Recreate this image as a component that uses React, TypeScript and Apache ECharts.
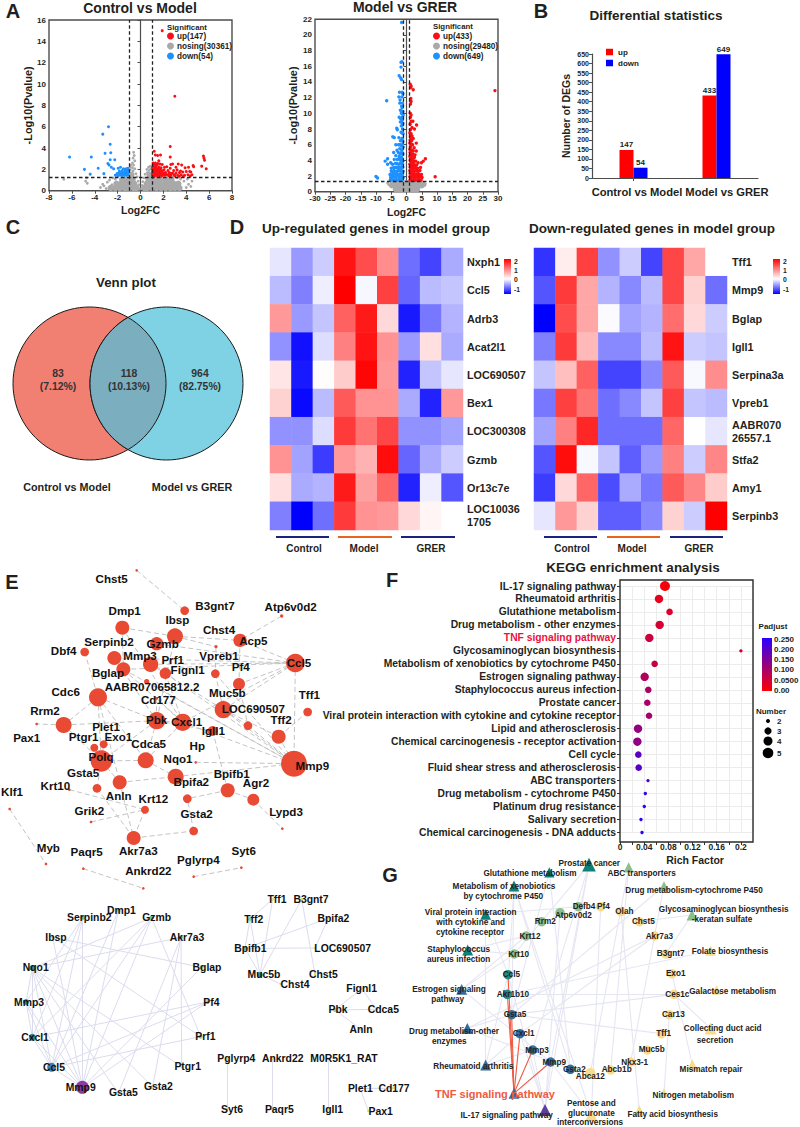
import React, { useEffect, useRef } from "react";
import * as echarts from "echarts";

const FF = "'Liberation Sans', Arial, sans-serif";
const INK = "#231f20";

// ---------- A: volcano plots ----------
const upA1 = [[1.9,15],[3,8.85],[2.6,4.15],[1.2,3.7],[1.3,3.35],[1.5,3.3],[1.75,3.35],[1.6,2.8],[2.6,3.15],[5.5,3.25],[5.55,3.05],[5.6,2.85],[5.35,2.3],[5.75,2.05],[4.2,2.2],[4.6,2.35],[4.65,2.25],[1.1,2.6],[1.3,2.6],[1.5,2.55],[1.7,2.5],[1.1,2.4],[1.25,2.35],[1.45,2.4],[1.9,2.45],[2.1,2.2],[2.3,2.25],[1.05,2.2],[1.2,2.15],[1.35,2.2],[1.6,2.2],[1.8,2.15],[2.6,2.1],[2.8,2.5],[3.1,2.2],[3.3,2.5],[3.6,2.4],[3.9,2.15],[2.65,2.45],[1.05,2],[1.15,1.95],[1.3,2],[1.45,1.95],[1.65,2],[1.85,1.9],[2.05,1.95],[2.4,1.9],[2.9,1.9],[3.2,1.95],[3.5,1.85],[4.3,1.8],[1.05,1.8],[1.2,1.75],[1.35,1.8],[1.5,1.75],[1.7,1.7],[1.9,1.75],[2.2,1.7],[2.5,1.7],[2.8,1.65],[3.1,1.65],[3.4,1.7],[3.7,1.75],[4,1.8],[4.4,1.75],[1.05,1.6],[1.2,1.55],[1.35,1.6],[1.55,1.55],[1.75,1.55],[1.95,1.5],[2.15,1.55],[2.35,1.5],[2.65,1.45],[2.95,1.5],[3.25,1.45],[3.55,1.5],[3.85,1.45],[4.15,1.5],[4.5,1.5],[1.05,1.42],[1.2,1.4],[1.4,1.4],[1.6,1.38],[1.85,1.38],[2.5,1.38],[3,1.38],[3.4,1.36],[3.75,1.36],[4.35,1.38]];
const upBulkA1 = [[1.3,1.6],[1.7,1.6],[1.3,2],[1.6,2],[2.1,1.55],[1.25,2.35],[2.6,1.55]];
const downA1 = [[-6.2,3.15],[-4.3,3.15],[-4.9,2],[-4.4,1.55],[-3.7,2.1],[-3.2,1.6],[-3.3,5.3],[-2.8,6],[-2.65,4.35],[-3.1,3.5],[-2.6,3.55],[-2.85,2.55],[-2.75,2.4],[-2.55,2.2],[-2.25,2.9],[-2.65,2.9],[-2.35,2.05],[-1.95,2.1],[-1.75,2.2],[-1.5,2.05],[-1.25,2],[-1.1,2.1],[-1.1,1.9],[-1.35,1.85],[-1.6,1.9],[-1.85,1.85],[-2.05,1.6],[-1.9,1.65],[-1.7,1.65],[-1.5,1.7],[-1.3,1.65],[-1.1,1.7],[-2,1.4],[-1.8,1.45],[-1.6,1.45],[-1.4,1.45],[-1.2,1.45],[-1.08,1.5],[-2.2,1.45]];
const downBulkA1 = [[-1.3,1.6],[-1.7,1.6],[-1.25,1.95]];
const greyA1 = [[-6.7,1.07],[-4.7,1.2],[-4.8,0.9],[-4.65,0.7],[-3.5,0.3],[-3.2,0.45],[-3,0.2],[-3.3,0.6],[-2.9,0.8],[-2.7,1],[-2.4,1.2],[-2.2,1.1],[-2.5,0.55],[4.4,0.4],[4.2,0.6],[4.5,0.9],[4,0.3],[3.8,0.9],[3.5,1.1],[4.1,1.1],[3.2,1.2],[2.8,1.25],[2.3,1.25],[1.8,1.28],[-0.6,3.6],[-0.55,3.3],[-0.65,3.05],[-0.5,2.8],[-0.7,2.6],[-0.85,2.4],[-0.6,2.4],[-0.9,2.2],[-0.7,2.15],[-0.5,2.05],[-0.9,1.95],[-0.65,1.85],[0.85,2.3],[0.7,2.2],[0.9,2.05],[0.55,2],[0.75,1.9],[0.6,1.7],[0.4,1.55],[-0.4,1.6],[-0.3,1.3],[0.3,1.2],[-0.2,0.9],[0.2,0.85],[-0.15,0.55],[0.15,0.5],[0.1,0.2],[-0.1,0.15],[-1.2,0.1],[1.8,0.1],[2.7,0.1]];
const greyBulkA1 = [[-2.6,0.25],[-2.2,0.25],[-1.8,0.25],[-1.4,0.25],[-1,0.25],[-0.6,0.25],[-0.35,0.25],[0.35,0.25],[0.6,0.25],[1,0.25],[1.4,0.25],[1.8,0.25],[2.2,0.25],[2.6,0.25],[3,0.25],[3.4,0.25],[-2.1,0.65],[-1.7,0.65],[-1.3,0.65],[-0.9,0.65],[-0.55,0.65],[0.55,0.65],[0.9,0.65],[1.3,0.65],[1.7,0.65],[2.1,0.65],[2.5,0.65],[2.9,0.65],[3.3,0.65],[-1.6,1.05],[-1.3,1.05],[-0.95,1.05],[-0.7,1.05],[0.7,1.05],[0.95,1.05],[1.3,1.05],[1.7,1.05],[2.2,1.05],[2.7,1.05],[-0.8,1.5],[0.8,1.5]];

const upA2 = [[29,12.9],[9.4,1.9],[1.2,13.7],[1.5,13.5],[1.4,13.3],[2.2,13],[1.4,11.9],[1.5,11.5],[1.3,11.2],[1.2,10],[1.5,9.8],[1.3,9.5],[2.1,9],[1.5,9],[1.2,8.6],[3.3,8.5],[1.8,8.2],[2.6,8],[1.3,7.9],[1.1,7.5],[1.5,7.4],[1.3,7],[1.8,7.1],[2.2,6.8],[1.2,6.6],[1.7,6.5],[3.2,6.2],[1.1,6.2],[1.5,6.1],[2,6],[1.3,5.7],[2.5,5.6],[1.1,5.4],[1.7,5.3],[2.2,5.2],[3.2,5.2],[1.2,5],[1.6,4.8],[2.1,4.8],[2.8,4.7],[1.1,4.5],[1.5,4.4],[2,4.3],[2.6,4.4],[6.2,4.2],[5.5,3.9],[1.2,4],[1.7,3.9],[2.3,3.9],[3,3.9],[3.8,3.7],[4.9,3.7],[1.1,3.5],[1.5,3.5],[2,3.4],[2.6,3.4],[3.3,3.4],[1.2,3.1],[1.8,3.1],[2.3,3],[2.9,3.1],[3.6,3],[4.6,3.1],[1.1,2.7],[1.5,2.7],[2,2.7],[2.6,2.6],[3.2,2.7],[3.9,2.6],[4.4,2.7],[1.2,2.3],[1.7,2.3],[2.3,2.3],[2.9,2.2],[3.5,2.3],[4.1,2.2],[4.9,2.2],[1.1,1.9],[1.6,1.9],[2.1,1.9],[2.7,1.9],[3.3,1.9],[3.9,1.8],[4.5,1.9],[5.1,1.8],[1.2,1.5],[1.8,1.5],[2.4,1.5],[3,1.5],[3.6,1.5],[4.2,1.5],[4.8,1.5]];
const upBulkA2 = [[1.4,1.6],[2.6,1.6],[3.8,1.6],[1.4,2.1],[2.5,2.1],[3.6,2.1],[1.4,2.6],[2.5,2.6],[1.4,3.1],[2.4,3.1],[1.4,3.6],[2.3,3.6],[1.4,4.1],[2.1,4.1],[1.3,4.7],[1.9,4.7],[1.3,5.3],[1.8,5.3],[1.3,6],[1.4,6.7]];
const downA2 = [[-1.6,21.6],[-1.5,16.6],[-1.8,16.5],[-1.8,15.9],[-2.4,14.8],[-1.9,14.5],[-1.6,14.3],[-2.3,12.7],[-1.4,12.7],[-1.2,12.5],[-2.5,12.1],[-1.5,12.1],[-2.1,11.7],[-6.5,11.6],[-2.2,11.3],[-1.3,11.3],[-1.6,10.9],[-1.4,10.7],[-2,10.4],[-1.2,10.2],[-1.7,10],[-1.1,9.8],[-2.4,9.5],[-1.9,9.3],[-1.4,9.1],[-2,8.9],[-1.2,8.7],[-1.7,8.4],[-3.2,8.1],[-3,7.9],[-1.3,8],[-1.8,7.6],[-1.1,7.4],[-4.5,7],[-4,6.9],[-2.5,6.9],[-1.5,6.8],[-2,6.5],[-1.2,6.4],[-3.5,6],[-2.6,6],[-1.7,5.9],[-1.1,5.7],[-2.2,5.5],[-3.1,5.3],[-1.5,5.2],[-4.2,5],[-2.7,5],[-1.9,4.9],[-1.2,4.8],[-3.5,4.6],[-2.4,4.5],[-1.6,4.4],[-6.2,4.2],[-7,3.9],[-5.2,3.7],[-6.2,3.5],[-4,4.1],[-3,4.1],[-2,4],[-1.2,3.9],[-4.6,3.5],[-3.6,3.6],[-2.6,3.5],[-1.6,3.5],[-5,3],[-4.2,3.1],[-3.2,3.1],[-2.2,3.1],[-1.2,3.1],[-5,2.6],[-4.1,2.7],[-3.2,2.6],[-2.6,2.7],[-1.7,2.7],[-1.1,2.6],[-5.4,2.2],[-4.5,2.3],[-3.7,2.3],[-2.9,2.2],[-2,2.3],[-1.3,2.2],[-5.2,1.8],[-4.3,1.9],[-3.4,1.9],[-2.5,1.8],[-1.7,1.9],[-1.1,1.8],[-5.3,1.5],[-4.5,1.5],[-3.7,1.5],[-2.9,1.5],[-2.1,1.5],[-1.4,1.5],[-10,1.95],[-9.5,1.75]];
const downBulkA2 = [[-4.8,1.6],[-3.6,1.6],[-2.4,1.6],[-1.4,1.6],[-4.6,2.1],[-3.4,2.1],[-2.2,2.1],[-1.4,2.1],[-4.2,2.6],[-3,2.6],[-1.9,2.6],[-3.8,3.1],[-2.6,3.1],[-1.5,3.1],[-3.2,3.6],[-2,3.6],[-1.3,3.6],[-2.4,4.2],[-1.5,4.2],[-2.1,4.8],[-1.3,4.8],[-1.7,5.4],[-1.4,6],[-2.1,6],[-1.3,6.8],[-1.5,7.5],[-1.3,8.5],[-1.4,9.5]];
const greyA2 = [[6.2,1],[6,0.8],[-5.8,0.9],[-6.2,1.1],[5.6,1.15],[-0.2,0.1],[0.3,0.1]];
const greyBulkA2 = [[-3.5,0.3],[-2.5,0.3],[-1.5,0.3],[-0.5,0.3],[0.5,0.3],[1.5,0.3],[2.5,0.3],[3.5,0.3],[-4.8,0.8],[-3.8,0.8],[-2.8,0.8],[-1.8,0.8],[-0.8,0.8],[0.2,0.8],[1.2,0.8],[2.2,0.8],[3.2,0.8],[4.2,0.8],[5,0.8],[-4.4,1.1],[-3.4,1.1],[-2.4,1.1],[-1.4,1.1],[-0.4,1.1],[0.6,1.1],[1.6,1.1],[2.6,1.1],[3.6,1.1],[4.6,1.1]];

// ---------- B: DEG bars ----------
const comparisons = ["Control vs Model", "Model vs GRER"];
const degUp = [147, 433];
const degDown = [54, 649];

// ---------- C: Venn ----------
const vennCircles = [[89.5, 383.5, 76.5, "#f28072"], [166.5, 383.5, 76.5, "#7fd1e4"]];
const vennLabels = [["83", "(7.12%)", 58], ["118", "(10.13%)", 129], ["964", "(82.75%)", 200]];

// ---------- D: heatmaps ----------
const samples = ["C1", "C2", "C3", "M1", "M2", "M3", "G1", "G2", "G3"];
const upGenes = ["Nxph1", "Ccl5", "Adrb3", "Acat2l1", "LOC690507", "Bex1", "LOC300308", "Gzmb", "Or13c7e", "LOC10036\n1705"];
const upValues = [
  [-0.15,-0.6,-0.3,1.85,1.4,0.9,-0.85,-1.1,-0.5],
  [-0.4,-0.75,-0.1,2,-0.05,1.5,-0.9,-0.4,-0.35],
  [0.8,-0.6,-0.35,1.25,1.8,0.3,-1.35,-0.8,-0.45],
  [-0.65,-1.4,-0.2,1,1.85,0.85,-0.6,0.25,-0.5],
  [0.2,-1.35,0.02,0.4,1.95,0.8,-1.3,-0.35,-0.15],
  [0.35,-1.45,-0.4,1.3,0.85,0.85,-0.5,-1.3,0.8],
  [-0.65,-0.65,-0.2,1.55,1.1,1.45,-0.65,-0.65,-0.55],
  [0.85,-0.55,-1.15,0.8,0.6,1.9,-0.9,-0.5,-0.3],
  [0.25,-0.5,-0.45,1.8,0.75,1.2,-1.3,-0.1,-1],
  [-0.75,-1.5,-0.85,1.55,0.85,0.8,0.3,0.08,0],
];
const downGenes = ["Tff1", "Mmp9", "Bglap", "Igll1", "Serpina3a", "Vpreb1", "AABR070\n26557.1", "Stfa2", "Amy1", "Serpinb3"];
const downValues = [
  [-1.2,0.15,1.5,-0.65,-0.3,-1.1,1.45,0.7,0],
  [-1,1.55,0.7,-0.45,-0.7,-0.4,1.45,0.35,-0.85],
  [-1.5,1.4,0.7,-0.03,-0.55,-0.45,1.15,0.3,-0.3],
  [-0.75,1.55,0.55,-0.7,-0.7,-0.4,1.85,-0.3,-0.35],
  [-0.35,0.5,1.25,-1.1,-1.1,-0.7,1.3,-0.04,0.9],
  [-0.8,1.5,1.1,-0.85,-0.7,-0.35,1.5,-0.35,-0.4],
  [-0.55,1,1.7,-0.85,-0.85,-0.85,1.2,0,-0.15],
  [-1,1.9,-0.04,-0.35,-0.95,-0.6,1,-0.3,0.95],
  [-1.15,0.3,1.2,-1.05,-0.5,-0.8,1.3,0.95,0.4],
  [-0.15,0.8,0.35,-0.95,-0.95,-0.7,0.35,-0.3,2],
];
const heatStops = ["#0000ff", "#5555ff", "#aaaaff", "#ffffff", "#ffbfbf", "#ff8080", "#ff4040", "#ff0000"];

// ---------- F: KEGG ----------
const pathways = ["IL-17 signaling pathway","Rheumatoid arthritis","Glutathione metabolism","Drug metabolism - other enzymes","TNF signaling pathway","Glycosaminoglycan biosynthesis","Metabolism of xenobiotics by cytochrome P450","Estrogen signaling pathway","Staphylococcus aureus infection","Prostate cancer","Viral protein interaction with cytokine and cytokine receptor","Lipid and atherosclerosis","Chemical carcinogenesis - receptor activation","Cell cycle","Fluid shear stress and atherosclerosis","ABC transporters","Drug metabolism - cytochrome P450","Platinum drug resistance","Salivary secretion","Chemical carcinogenesis - DNA adducts"];
const richFactor = [0.0744,0.0645,0.082,0.0656,0.0485,0.2,0.0573,0.0408,0.0468,0.0452,0.048,0.0298,0.0287,0.0303,0.0309,0.0463,0.0419,0.0402,0.0347,0.0364];
const padjust = [0.01,0.03,0.04,0.05,0.06,0.05,0.07,0.09,0.095,0.1,0.105,0.125,0.13,0.19,0.195,0.22,0.23,0.235,0.24,0.245];
const geneNumber = [5,4,3,4,4,2,3,4,3,3,3,4,4,3,3,2,2,2,2,2];
const numberSize: any = { 2: 3.4, 3: 6.6, 4: 8.4, 5: 10 };

// ---------- E: PPI network ----------
const ppiNodes: any[] = [["a",410,16,8],["b",554,137,26],["c",845,153,10],["d",367,188,42],["e",525,214,48],["f",470,236,40],["g",648,245,10],["h",720,226,40],["i",254,261,26],["j",343,279,42],["k",370,313,42],["l",452,298,46],["m",496,325,34],["n",646,326,26],["o",886,294,56],["p",717,357,36],["q",440,350,16],["r",470,400,8],["s",294,397,54],["t",670,434,52],["u",923,441,26],["v",191,480,48],["w",110,477,8],["x",470,467,52],["y",548,472,52],["z",638,498,30],["aa",744,482,26],["ab",836,515,42],["ac",311,538,24],["ad",283,548,24],["ae",304,588,64],["af",437,586,48],["ag",587,592,8],["ah",882,596,78],["ai",527,635,48],["aj",359,652,42],["ak",291,670,26],["al",208,674,8],["am",683,676,42],["an",760,704,36],["ao",562,701,26],["ap",435,734,24],["aq",273,771,8],["ar",847,791,8],["as",581,798,26],["at",401,819,42],["au",29,732,8],["av",138,897,8],["aw",250,911,8],["ax",724,908,8],["ay",581,935,8],["az",430,970,8]];
const ppiEdges = ["a-b","c-h","d-e","d-y","d-k","e-h","e-g","e-x","f-l","f-o","h-o","h-p","j-o","l-o","k-o","k-ah","o-p","o-ah","o-y","o-t","g-n","n-t","m-y","s-v","s-x","s-ae","i-s","v-x","v-w","v-ae","x-ae","x-af","x-y","x-z","y-ah","y-af","k-y","j-x","l-t","t-ah","ab-ah","ab-t","aa-ah","aa-t","n-ah","p-aa","q-ah","m-ah","ae-aj","ae-af","ae-ac","ad-ae","af-ai","aj-ai","aj-at","ak-at","ak-ae","al-ap","aq-ap","ap-at","ai-ah","am-ao","am-an","ag-ah","an-ar","at-as","as-ao","au-av","aw-az","ay-ax","z-am","s-aj","r-y","r-x","s-af","u-ab"];
const ppiLabels: any[] = [["Chst5",335,40],["B3gnt7",645,120],["Atp6v0d2",872,125],["Dmp1",374,136],["Ibsp",532,162],["Chst4",657,192],["Gzmb",488,234],["Acp5",760,226],["Serpinb2",327,228],["Dbf4",191,257],["Mmp3",420,272],["Prf1",518,284],["Vpreb1",657,272],["Pf4",722,305],["Ccl5",897,291],["Fignl1",563,313],["Bglap",324,321],["AABR07065812.2",456,364],["Muc5b",682,381],["Tff1",928,388],["Cdc6",197,380],["Cd177",475,403],["LOC690507",760,430],["Rrm2",135,435],["Pbk",470,464],["Cxcl1",560,468],["Tff2",843,463],["Plet1",318,484],["Igll1",640,495],["Exo1",355,515],["Ptgr1",251,513],["Pax1",80,516],["Cdca5",446,534],["Hp",592,540],["Polq",303,575],["Nqo1",534,581],["Mmp9",937,602],["Gsta5",249,622],["Bpifb1",695,625],["Bpifa2",574,648],["Agr2",768,653],["Krt10",166,660],["Klf1",36,679],["Anln",356,692],["Krt12",460,701],["Grik2",268,736],["Lypd3",858,739],["Gsta2",590,746],["Myb",145,846],["Paqr5",260,858],["Akr7a3",415,857],["Syt6",731,856],["Pglyrp4",595,884],["Ankrd22",445,917]];

// ---------- E, lower: modules ----------
const modNodes: any[] = [["Dmp1",355,92,4.5,"#9ccf8c"],["Serpinb2",248,113,4.5,"#6fbf8f"],["Gzmb",455,113,4.5,"#6fbf8f"],["Ibsp",158,172,3.5,"#b5d98a"],["Akr7a3",543,172,4,"#6fbf8f"],["Nqo1",97,264,6,"#2a9a92"],["Bglap",605,262,4,"#9ccf8c"],["Mmp3",78,366,6,"#2a9a92"],["Pf4",623,366,4,"#9ccf8c"],["Cxcl1",97,472,7,"#2a8a9a"],["Prf1",602,470,4,"#9ccf8c"],["Ccl5",155,562,9,"#3a7fb5"],["Ptgr1",545,560,3,"#d9e38a"],["Mmp9",247,622,13,"#8e3aa0"],["Gsta5",355,640,3,"#d9e38a"],["Gsta2",458,620,3,"#d9e38a"],["Tff1",818,58,3,"#d9e38a"],["B3gnt7",905,58,3,"#e5dc55"],["Tff2",750,117,4,"#9ccf8c"],["Bpifa2",985,115,2.5,"#e5dc55"],["Bpifb1",735,205,4.5,"#6fbf8f"],["LOC690507",945,204,2.5,"#e5dc55"],["Muc5b",780,284,5.5,"#2a9a92"],["Chst5",945,282,2.5,"#e5dc55"],["Chst4",842,312,2.5,"#e5dc55"],["Fignl1",1085,326,2.5,"#e5dc55"],["Pbk",1005,390,4,"#9ccf8c"],["Cdca5",1130,388,2.5,"#e5dc55"],["Anln",1083,448,2.5,"#e5dc55"],["Pglyrp4",682,536,2.5,"#e5dc55"],["Ankrd22",817,536,2.5,"#e5dc55"],["M0R5K1_RAT",985,536,2.5,"#e5dc55"],["Syt6",682,688,2.5,"#e5dc55"],["Paqr5",817,688,2.5,"#e5dc55"],["Igll1",985,688,2.5,"#e5dc55"],["Plet1",1080,624,2.5,"#e5dc55"],["Cd177",1180,624,2.5,"#e5dc55"],["Pax1",1105,693,2.5,"#e5dc55"]];
const modEdges = ["Dmp1-Mmp9","Dmp1-Ccl5","Serpinb2-Mmp9","Serpinb2-Ccl5","Serpinb2-Cxcl1","Serpinb2-Mmp3","Gzmb-Mmp9","Gzmb-Ccl5","Gzmb-Cxcl1","Gzmb-Prf1","Gzmb-Nqo1","Ibsp-Bglap","Ibsp-Prf1","Ibsp-Mmp9","Akr7a3-Nqo1","Akr7a3-Gsta2","Akr7a3-Gsta5","Akr7a3-Ptgr1","Nqo1-Mmp3","Nqo1-Cxcl1","Nqo1-Ccl5","Nqo1-Mmp9","Nqo1-Gsta5","Nqo1-Gsta2","Nqo1-Ptgr1","Mmp3-Cxcl1","Mmp3-Ccl5","Mmp3-Mmp9","Cxcl1-Ccl5","Cxcl1-Mmp9","Cxcl1-Pf4","Ccl5-Mmp9","Ccl5-Pf4","Ccl5-Prf1","Mmp9-Pf4","Mmp9-Bglap","Tff1-Tff2","Tff1-Muc5b","B3gnt7-Muc5b","B3gnt7-Chst5","Tff2-Bpifb1","Tff2-Muc5b","Bpifa2-Bpifb1","Bpifa2-LOC690507","Bpifb1-LOC690507","Bpifb1-Muc5b","Muc5b-Chst4","Fignl1-Pbk","Fignl1-Cdca5","Pbk-Cdca5","Pbk-Anln","Pglyrp4-Syt6","Ankrd22-Paqr5","M0R5K1_RAT-Igll1","Plet1-Cd177","Plet1-Pax1"];
const modLabels: any[] = [["Dmp1",364,92],["Serpinb2",268,113],["Gzmb",470,113],["Ibsp",168,172],["Akr7a3",561,172],["Nqo1",107,263],["Bglap",621,261],["Mmp3",87,367],["Pf4",634,366],["Cxcl1",105,472],["Prf1",616,470],["Ccl5",162,562],["Ptgr1",563,559],["Mmp9",242,623],["Gsta5",370,638],["Gsta2",475,618],["Tff1",831,58],["B3gnt7",933,58],["Tff2",761,117],["Bpifa2",1000,116],["Bpifb1",751,205],["LOC690507",1028,204],["Muc5b",792,284],["Chst5",970,282],["Chst4",885,312],["Fignl1",1085,326],["Pbk",1014,389],["Cdca5",1150,388],["Anln",1083,448],["Pglyrp4",709,536],["Ankrd22",848,536],["M0R5K1_RAT",1032,536],["Syt6",696,688],["Paqr5",838,688],["Igll1",998,688],["Plet1",1081,624],["Cd177",1182,624],["Pax1",1142,693]];

// ---------- G: pathway network ----------
const TEAL = "#0f7f78", GREEN = "#8cbf8c", BLUE = "#336c9a", YEL = "#f8dc8c", TEAL2 = "#1e8e85", PUR = "#5b3f9c";
const gTriangles: any[] = [["Prostate",597,14,20,TEAL],["ABC",716,22,15,GREEN],["Glutathione",478,37,15,TEAL],["Xeno",372,78,16,TEAL],["DrugP450",822,78,14,GREEN],["Glyco",906,165,16,GREEN],["Viral",287,163,16,TEAL],["Staph",233,270,16,TEAL],["Folate",962,272,15,YEL],["Estrogen",215,388,16,BLUE],["Galactose",980,390,14,YEL],["DrugOther",232,505,16,BLUE],["Collecting",962,505,18,YEL],["Rheum",287,615,16,BLUE],["Mismatch",907,615,16,YEL],["TNF",372,700,16,BLUE],["Nitrogen",822,698,13,YEL],["IL17",465,750,18,PUR],["Fatty",748,752,16,YEL],["Pentose",604,765,18,YEL]];
const gCircles: any[] = [["Defb4",565,140,10,GREEN],["Pf4",632,140,10,YEL],["Atp6v0d2",510,158,10,GREEN],["Olah",693,155,10,YEL],["Rrm2",455,185,10,GREEN],["Chst5",748,185,10,YEL],["Krt12",408,228,10,GREEN],["Akr7a3",794,228,10,YEL],["Krt10",373,282,10,GREEN],["B3gnt7",827,282,10,YEL],["Ccl5",354,344,10,TEAL2],["Exo1",846,341,10,YEL],["Akr1b10",352,403,10,TEAL2],["Ces1c",852,403,10,YEL],["Gsta5",365,464,10,BLUE],["Car13",838,464,10,YEL],["Cxcl1",390,521,10,BLUE],["Tff1",814,521,10,YEL],["Mmp3",428,570,10,BLUE],["Muc5b",772,570,10,YEL],["Mmp9",482,606,10,BLUE],["Nkx3-1",722,606,10,YEL],["Gsta2",541,628,10,BLUE],["Abca12",601,640,11,YEL],["Abcb1b",662,630,10,YEL]];
const gPaleEdges = ["Prostate-Mmp9","Prostate-Mmp3","Prostate-IL17","Glutathione-Gsta5","Glutathione-Gsta2","Xeno-Gsta5","Xeno-Gsta2","Xeno-Akr1b10","Viral-Ccl5","Viral-Defb4","Staph-Krt10","Staph-Krt12","Estrogen-Krt12","Estrogen-Krt10","Estrogen-Mmp9","DrugOther-Gsta5","DrugOther-Gsta2","DrugOther-Akr7a3","Rheum-Ccl5","Rheum-Cxcl1","Rheum-Mmp3","IL17-Ccl5","IL17-Cxcl1","IL17-Mmp3","IL17-Mmp9","IL17-Atp6v0d2","ABC-Abca12","ABC-Abcb1b","DrugP450-Gsta5","DrugP450-Nkx3-1","Glyco-Chst5","Glyco-B3gnt7","Folate-Akr1b10","Galactose-Ces1c","Ces1c-Akr1b10","Ces1c-Gsta5","Collecting-Ces1c","Mismatch-Exo1","Nitrogen-Car13","Fatty-Olah","Pentose-Pf4","Pentose-Xeno","Pentose-Mmp9","Gsta5-Tff1","Cxcl1-Akr7a3","Viral-Rheum","Prostate-Krt10"];
const gRedEdges = ["TNF-Ccl5","TNF-Akr1b10","TNF-Gsta5","TNF-Cxcl1","TNF-Mmp3","TNF-Mmp9"];
const gLabels: any[] = [["Prostate cancer",598,9],["ABC transporters",755,41],["Glutathione metabolism",420,41],["Metabolism of xenobiotics",342,79],["by cytochrome P450",340,109],["Drug metabolism-cytochrome P450",912,90],["Defb4",582,139],["Pf4",640,139],["Atp6v0d2",550,165],["Olah",703,154],["Rrm2",466,185],["Chst5",760,185],["Glycosaminoglycan biosynthesis",1001,149],["-keratan sulfate",996,178],["Viral protein interaction",242,158],["with cytokine and",242,187],["cytokine receptor",240,217],["Krt12",420,228],["Akr7a3",808,228],["Staphylococcus",206,268],["aureus infection",206,297],["Krt10",386,282],["B3gnt7",842,281],["Folate biosynthesis",1020,274],["Ccl5",364,344],["Exo1",857,341],["Estrogen signaling",177,389],["pathway",173,418],["Akr1b10",369,403],["Ces1c",862,403],["Galactose metabolism",1028,394],["Gsta5",375,464],["Car13",850,464],["Drug metabolism-other",192,515],["enzymes",178,545],["Cxcl1",401,521],["Tff1",821,521],["Collecting duct acid",998,505],["secretion",975,540],["Mmp3",441,570],["Muc5b",785,569],["Mmp9",493,606],["Nkx3-1",734,606],["Gsta2",553,627],["Abcb1b",680,629],["Abca12",601,650],["Rheumatoid arthritis",250,618],["Mismatch repair",963,628],["Nitrogen metabolism",910,705],["Pentose and",604,730],["glucuronate",604,760],["interconversions",600,788],["IL-17 signaling pathway",350,767],["Fatty acid biosynthesis",848,762]];

const T = (text: string, x: number, y: number, o: any = {}) => ({
  type: "text", x, y, z: 100, silent: true, rotation: o.r ?? 0,
  style: { text, fontFamily: FF, fontSize: o.s ?? 10, fontWeight: o.w ?? "bold", fill: o.c ?? INK,
    align: o.a ?? "center", verticalAlign: "middle", textAlign: o.a ?? "center", textVerticalAlign: "middle" },
});
const PAGE_AXIS = 6;
const pageGraph = (nodes: any[], edges: any[]) => ({
  type: "graph", coordinateSystem: "cartesian2d", xAxisIndex: PAGE_AXIS, yAxisIndex: PAGE_AXIS,
  layout: "none", roam: false, silent: true, label: { show: false }, z: 3, data: nodes, links: edges,
});
const edgeOf = (s: string, lineStyle: any) => {
  const i = s.indexOf("-");
  return { source: s.slice(0, i), target: s.slice(i + 1), lineStyle };
};

function buildOption() {
  const frameGrid = (left: number, top: number, width: number, height: number) => ({
    left, top, width, height, show: true, borderColor: "#4d4d4d", borderWidth: 1.4, backgroundColor: "transparent",
  });
  const tickText = { fontFamily: FF, fontWeight: "bold", fontSize: 8, color: INK, margin: 3 };
  const axisDark = { show: true, lineStyle: { color: "#4d4d4d", width: 1.2 } };
  const tickDark = { show: true, length: 3, lineStyle: { color: "#4d4d4d", width: 1 } };
  const thresholds = {
    silent: true, symbol: "none", animation: false, label: { show: false },
    lineStyle: { type: [3.5, 2.5], color: "#222", width: 1.3 },
    data: [{ xAxis: -1 }, { xAxis: 1 }, { yAxis: 1.3 }],
  };
  const volcAxes = (i: number, xmin: number, xmax: number, xi: number, ymax: number, nx: number, ny: number) => ({
    x: { type: "value", gridIndex: i, min: xmin, max: xmax, interval: xi, name: "Log2FC", nameLocation: "middle", nameGap: nx,
      nameTextStyle: { fontFamily: FF, fontWeight: "bold", fontSize: 10.5, color: INK },
      splitLine: { show: false }, axisLine: axisDark, axisTick: tickDark, axisLabel: tickText },
    y: { type: "value", gridIndex: i, min: 0, max: ymax, interval: 2, name: "-Log10(Pvalue)", nameLocation: "middle", nameGap: ny,
      nameTextStyle: { fontFamily: FF, fontWeight: "bold", fontSize: 10.9, color: INK },
      splitLine: { show: false }, axisLine: axisDark, axisTick: tickDark, axisLabel: tickText },
  });
  const pts = (name: string, i: number, data: any, size: number, color: string, extra: any = {}) => ({
    type: "scatter", name, xAxisIndex: i, yAxisIndex: i, data, symbolSize: size, itemStyle: { color, opacity: 1 }, silent: true, ...extra,
  });
  const v1 = volcAxes(0, -8, 8, 2, 16, 14, 14);
  const v2 = volcAxes(1, -30, 30, 5, 22, 15, 17);
  const nA1 = ["up(147)", "nosing(30361)", "down(54)"];
  const nA2 = ["up(433)", "nosing(29480)", "down(649)"];
  const volcLegend = (names: string[], left: number) => ({
    data: names, left, top: 32, orient: "vertical", icon: "circle", itemWidth: 7, itemHeight: 7, itemGap: 2, selectedMode: false,
    padding: 0, textStyle: { fontFamily: FF, fontWeight: "bold", fontSize: 8.2, color: INK, padding: [0, 0, 0, -2] },
  });

  const heatData = (m: number[][]) => m.flatMap((row, r) => row.map((v, c) => [c, r, v]));
  const heatAxes = (i: number, genes: string[], margin: number) => ({
    x: { type: "category", gridIndex: i, data: samples, show: false },
    y: { type: "category", gridIndex: i, data: genes, inverse: true, position: "right",
      axisLine: { show: false }, axisTick: { show: false },
      axisLabel: { fontFamily: FF, fontWeight: "bold", fontSize: 10.8, color: INK, margin, lineHeight: 13, align: "left" } },
  });
  const h1 = heatAxes(3, upGenes, 4);
  const h2 = heatAxes(4, downGenes, 5);

  const keggData = richFactor.map((x, i) => [x, i, padjust[i], geneNumber[i]]);

  const E = (x: number, y: number) => [x / 3, 565 + y / 3];
  const E2 = (x: number, y: number) => [x / 3, 880 + y / 3];
  const G = (x: number, y: number) => [390 + x / 3, 860 + y / 3];

  const ppiN = ppiNodes.map(([name, x, y, d]) => ({ name, value: E(x, y), symbol: "circle", symbolSize: d / 3, itemStyle: { color: "#e84a33" } }));
  const ppiL = ppiEdges.map((s) => edgeOf(s, { color: "#bcbcbc", width: 0.9, type: [5, 3], opacity: 1 }));
  const modN = modNodes.map(([name, x, y, d, c]) => ({ name, value: E2(x, y), symbol: "circle", symbolSize: d, itemStyle: { color: c } }));
  const modL = modEdges.map((s) => edgeOf(s, { color: "#dcdcee", width: 1, opacity: 1 }));
  const gN = [
    ...gTriangles.map(([name, x, y, d, c]) => ({ name, value: G(x, y), symbol: "triangle", symbolSize: d * 0.68, itemStyle: { color: c } })),
    ...gCircles.map(([name, x, y, d, c]) => ({ name, value: G(x, y), symbol: "circle", symbolSize: d * 0.95, itemStyle: { color: c } })),
  ];
  const gNames = new Set(gN.map((n) => n.name));
  const gEdge = (s: string, lineStyle: any) => {
    for (let i = 0; i < s.length; i++) {
      if (s[i] === "-" && gNames.has(s.slice(0, i)) && gNames.has(s.slice(i + 1))) {
        return { source: s.slice(0, i), target: s.slice(i + 1), lineStyle };
      }
    }
    return edgeOf(s, lineStyle);
  };
  const gL = [
    ...gPaleEdges.map((s) => gEdge(s, { color: "#e6e6f3", width: 1.1, opacity: 1 })),
    ...gRedEdges.map((s) => gEdge(s, { color: "#ee5a42", width: 1.1, opacity: 1 })),
  ];

  const graphics: any[] = [
    T("A", 13, 11, { s: 20 }), T("B", 541, 11, { s: 20 }), T("C", 13, 227, { s: 20 }), T("D", 237, 227, { s: 20 }),
    T("E", 12, 582, { s: 20 }), T("F", 392, 580, { s: 20 }), T("G", 390, 875, { s: 20 }),
    T("Control vs Model", 140, 8, { s: 14 }), T("Model vs GRER", 405, 7, { s: 14 }),
    T("Differential statistics", 656, 15, { s: 13.5 }), T("Venn plot", 126, 282, { s: 13.3 }),
    T("Up-regulated genes in model group", 376, 228, { s: 13.55 }), T("Down-regulated genes in model group", 652, 228, { s: 13.5 }),
    T("KEGG enrichment analysis", 633, 567, { s: 13.5 }),
    T("Significant", 167, 27, { s: 7.8, a: "left" }), T("Significant", 433, 26, { s: 7.8, a: "left" }),
    T("Control vs Model", 637, 192, { s: 11.2 }), T("Model vs GRER", 727, 192, { s: 11.2 }),
    T("Control vs Model", 67, 487, { s: 10.8 }), T("Model vs GRER", 192, 487, { s: 10.8 }),
    ...vennLabels.flatMap(([a, b, x]: any) => [T(a, x, 373, { s: 10.4, c: "#333" }), T(b, x, 386, { s: 10.4, c: "#333" })]),
    ...[[276, 329, "#1a237e", "Control", 304], [338, 392, "#e8641b", "Model", 364], [401, 455, "#1a237e", "GRER", 431],
        [544, 597, "#1a237e", "Control", 572], [607, 660, "#e8641b", "Model", 632], [670, 723, "#1a237e", "GRER", 699]].flatMap(([a, b, c, t, m]: any) => [
      { type: "line", z: 100, silent: true, shape: { x1: a, y1: 537, x2: b, y2: 537 }, style: { stroke: c, lineWidth: 2 } },
      T(t, m, 548, { s: 10 }),
    ]),
    ...[[504, 514], [773, 783]].flatMap(([x, lx]) => [
      { type: "rect", z: 100, silent: true, shape: { x, y: 259, width: 7, height: 35 },
        style: { fill: new echarts.graphic.LinearGradient(0, 0, 0, 1, [{ offset: 0, color: "#ff0000" }, { offset: 0.57, color: "#ffffff" }, { offset: 1, color: "#0000ff" }]) } },
      T("2", lx, 261, { s: 6.8, a: "left" }), T("1", lx, 270, { s: 6.8, a: "left" }), T("0", lx, 279, { s: 6.8, a: "left" }), T("-1", lx, 289, { s: 6.8, a: "left" }),
    ]),
    { type: "rect", z: 50, silent: true, shape: { x: 620, y: 580, width: 133, height: 262 }, style: { fill: "none", stroke: "#2b2b2b", lineWidth: 1.4 } },
    T("Rich Factor", 695, 860, { s: 10.5 }),
    T("Padjust", 773, 626, { s: 8 }),
    { type: "rect", z: 100, silent: true, shape: { x: 762, y: 638, width: 10, height: 53 },
      style: { fill: new echarts.graphic.LinearGradient(0, 0, 0, 1, [{ offset: 0, color: "#2a00ff" }, { offset: 1, color: "#ff0000" }]) } },
    ...["0.250", "0.200", "0.150", "0.100", "0.0500", "0.00"].map((t, i) => T(t, 774, 639 + i * 10.3, { s: 8, a: "left" })),
    T("Number", 771, 711, { s: 8 }),
    ...[[2, 721], [3, 731], [4, 741], [5, 753]].flatMap(([n, y]) => [
      { type: "circle", z: 100, silent: true, shape: { cx: 768, cy: y, r: numberSize[n] / 2 + 0.3 }, style: { fill: "#000" } },
      T(String(n), 777, y, { s: 8, a: "left" }),
    ]),
    ...ppiLabels.map(([t, x, y]) => { const p = E(x, y); return T(t, p[0], p[1], { s: 11.6, c: "#111" }); }),
    ...modLabels.map(([t, x, y]) => { const p = E2(x, y); return T(t, p[0], p[1], { s: 10.4, c: "#111" }); }),
    ...gLabels.map(([t, x, y]) => { const p = G(x, y); return T(t, p[0], p[1], { s: 8.2, c: "#222" }); }),
    (() => { const p = G(315, 703); return T("TNF signaling pathway", p[0], p[1], { s: 11, c: "#ee5a42" }); })(),
  ];

  return {
    animation: false,
    textStyle: { fontFamily: FF },
    grid: [
      frameGrid(49, 20, 183, 170.7),
      frameGrid(315, 19.3, 183, 172.4),
      { left: 592, top: 54, width: 166, height: 124 },
      { left: 270, top: 248, width: 193, height: 282 },
      { left: 534, top: 248, width: 193, height: 282 },
      { left: 620, top: 586, width: 133, height: 246.5 },
      { left: 0, top: 0, width: 800, height: 1127 },
    ],
    xAxis: [
      v1.x, v2.x,
      { type: "category", gridIndex: 2, data: comparisons, axisLine: axisDark, axisTick: { ...tickDark, alignWithLabel: true }, axisLabel: { show: false } },
      h1.x, h2.x,
      { type: "value", gridIndex: 5, min: 0, max: 0.22, interval: 0.02, offset: 9.5, position: "bottom",
        axisLine: { show: false }, axisTick: { show: true, length: 3, lineStyle: { color: "#333" } },
        axisLabel: { ...tickText, fontSize: 8.5, margin: 0, showMaxLabel: false,
          formatter: (v: number) => (Math.round(v * 100) % 4 === 0 ? String(+v.toFixed(2)) : "") },
        splitLine: { show: true, lineStyle: { color: "#ececec", width: 1 } } },
      { type: "value", gridIndex: 6, min: 0, max: 800, show: false },
    ],
    yAxis: [
      v1.y, v2.y,
      { type: "value", gridIndex: 2, min: 0, max: 650, interval: 50, name: "Number of DEGs", nameLocation: "middle", nameGap: 21,
        nameTextStyle: { fontFamily: FF, fontWeight: "bold", fontSize: 10.5, color: INK },
        axisLine: axisDark, axisTick: tickDark, splitLine: { show: false }, axisLabel: { ...tickText, fontSize: 7, margin: 3 } },
      h1.y, h2.y,
      { type: "category", gridIndex: 5, data: pathways, inverse: true, boundaryGap: false,
        axisLine: { show: false }, axisTick: { show: true, length: 3, lineStyle: { color: "#333" } },
        axisLabel: { fontFamily: FF, fontWeight: "bold", fontSize: 10.3, margin: 4, interval: 0, width: 400, overflow: "none",
          color: (v: string) => (v === "TNF signaling pathway" ? "#e8143c" : INK) },
        splitLine: { show: true, lineStyle: { color: "#ececec", width: 1 } } },
      { type: "value", gridIndex: 6, min: 0, max: 1127, inverse: true, show: false },
    ],
    legend: [
      volcLegend(nA1, 167), volcLegend(nA2, 433),
      { data: ["up", "down"], left: 606, top: 48, orient: "vertical", icon: "rect", itemWidth: 7, itemHeight: 6.5, itemGap: 3, selectedMode: false, padding: 0,
        textStyle: { fontFamily: FF, fontWeight: "bold", fontSize: 8, color: INK } },
    ],
    visualMap: [
      { show: false, seriesIndex: 12, min: -1.5, max: 2, dimension: 2, inRange: { color: heatStops } },
      { show: false, seriesIndex: 13, min: -1.5, max: 2, dimension: 2, inRange: { color: heatStops } },
      { show: false, seriesIndex: 14, min: 0, max: 0.25, dimension: 2, inRange: { color: ["#ff0000", "#2a00ff"] } },
    ],
    graphic: { elements: graphics },
    series: [
      pts(nA1[1], 0, greyBulkA1, 6.5, "#a9a9a9"), // 0
      pts(nA1[1], 0, greyA1, 2.8, "#a9a9a9"), // 1
      pts(nA1[0], 0, upBulkA1, 5, "#fb0f14"), // 2
      pts(nA1[0], 0, upA1, 3, "#fb0f14"), // 3
      pts(nA1[2], 0, downBulkA1, 5, "#1e90ff"), // 4
      pts(nA1[2], 0, downA1, 3, "#1e90ff", { markLine: thresholds }), // 5
      pts(nA2[1], 1, greyBulkA2, 6, "#a9a9a9"), // 6
      pts(nA2[1], 1, greyA2, 2.8, "#a9a9a9"), // 7
      pts(nA2[0], 1, [...upA2, ...upBulkA2], 3.4, "#fb0f14"), // 8
      pts(nA2[2], 1, [...downA2, ...downBulkA2], 3.4, "#1e90ff", { markLine: thresholds }), // 9
      { type: "bar", name: "up", xAxisIndex: 2, yAxisIndex: 2, data: degUp, barWidth: 14, barGap: "0%", itemStyle: { color: "#ff0000" }, silent: true, // 10
        label: { show: true, position: "top", distance: 1, fontFamily: FF, fontWeight: "bold", fontSize: 8, color: INK } },
      { type: "bar", name: "down", xAxisIndex: 2, yAxisIndex: 2, data: degDown, barWidth: 14, itemStyle: { color: "#0000ff" }, silent: true, // 11
        label: { show: true, position: "top", distance: 1, fontFamily: FF, fontWeight: "bold", fontSize: 8, color: INK } },
      { type: "heatmap", xAxisIndex: 3, yAxisIndex: 3, data: heatData(upValues), silent: true }, // 12
      { type: "heatmap", xAxisIndex: 4, yAxisIndex: 4, data: heatData(downValues), silent: true }, // 13
      { type: "scatter", xAxisIndex: 5, yAxisIndex: 5, data: keggData, silent: true, z: 4, itemStyle: { opacity: 1 }, // 14
        symbolSize: (v: number[]) => numberSize[v[3]] },
      { type: "custom", xAxisIndex: PAGE_AXIS, yAxisIndex: PAGE_AXIS, silent: true, z: 2, clip: false, data: vennCircles,
        encode: { x: 0, y: 1 },
        renderItem: (_p: any, api: any) => {
          const c = api.coord([api.value(0), api.value(1)]);
          return { type: "circle", shape: { cx: c[0], cy: c[1], r: api.value(2) },
            style: { fill: vennCircles[_p.dataIndex][3] as string, stroke: "#1a1a1a", lineWidth: 1 } };
        } },
      { type: "custom", xAxisIndex: PAGE_AXIS, yAxisIndex: PAGE_AXIS, silent: true, z: 2.5, clip: false, data: [[vennCircles[0][0], vennCircles[1][0], vennCircles[0][1], vennCircles[0][2]]],
        encode: { x: 0, y: 2 },
        renderItem: (_p: any, api: any) => {
          const x1 = api.value(0), x2 = api.value(1), cy = api.value(2), r = api.value(3);
          const mx = (x1 + x2) / 2, dy = Math.sqrt(r * r - ((x2 - x1) / 2) ** 2);
          const d = `M${mx} ${cy - dy}A${r} ${r} 0 0 1 ${mx} ${cy + dy}A${r} ${r} 0 0 1 ${mx} ${cy - dy}Z`;
          return { type: "path", shape: { pathData: d }, style: { fill: "#7baebe", stroke: "#1a1a1a", lineWidth: 1 } };
        } },
      pageGraph(ppiN, ppiL),
      pageGraph(modN, modL),
      pageGraph(gN, gL),
    ],
  };
}

export default function App() {
  const ref = useRef<HTMLDivElement>(null);
  useEffect(() => {
    const chart = echarts.init(ref.current!, undefined, { renderer: "svg" });
    chart.setOption(buildOption() as any);
    return () => chart.dispose();
  }, []);
  return <div ref={ref} style={{ position: "absolute", left: 0, top: 0, width: 800, height: 1127, background: "#fff" }} />;
}
